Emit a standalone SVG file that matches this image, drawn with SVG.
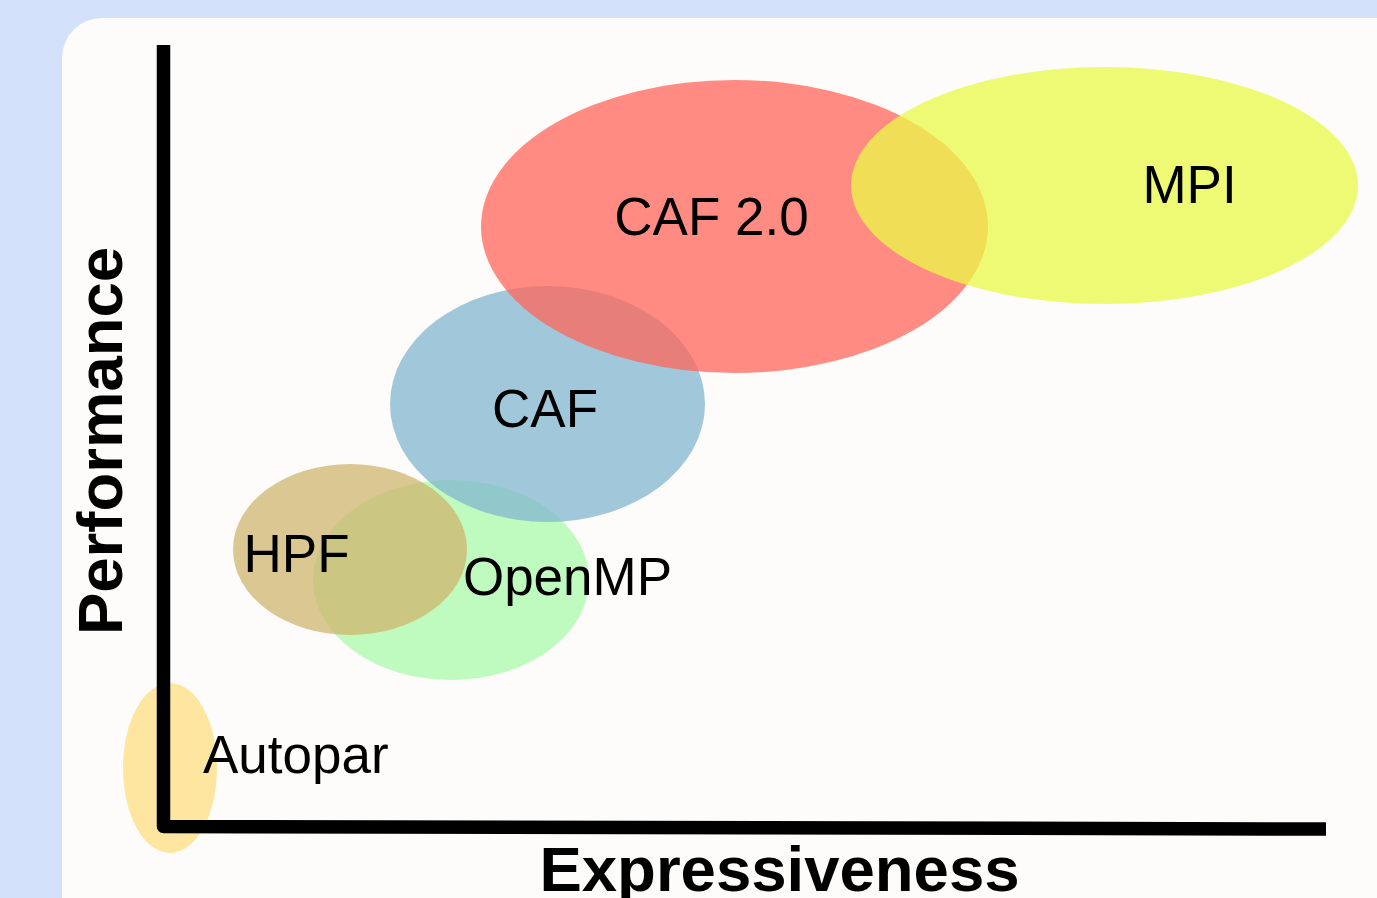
<svg xmlns="http://www.w3.org/2000/svg" width="1377" height="898" viewBox="0 0 1377 898">
<style>
.blob{fill-opacity:0.75;stroke:none}
.lbl{font-family:"Liberation Sans",Arial,sans-serif;font-size:53px;fill:#000}
.axlbl{font-family:"Liberation Sans",Arial,sans-serif;font-size:63.5px;font-weight:bold;fill:#000;text-anchor:middle}
</style>
<rect x="0" y="0" width="1377" height="898" fill="#D3E2FA"/>
<rect x="62" y="18" width="1400" height="1000" rx="40" ry="40" fill="#FDFCFB"/>
<g id="autopar">
<ellipse class="blob" cx="170" cy="768" rx="47" ry="85" fill="#FFDF82"/>
</g>
<g id="openmp">
<ellipse class="blob" cx="451" cy="580" rx="138" ry="100" fill="#A9FBAA"/>
</g>
<g id="hpf">
<ellipse class="blob" cx="350" cy="549.5" rx="117" ry="85.5" fill="#CFB56D"/>
</g>
<g id="caf">
<ellipse class="blob" cx="547.5" cy="404" rx="157.5" ry="118" fill="#81B7CF"/>
</g>
<g id="caf2">
<ellipse class="blob" cx="734.5" cy="226.5" rx="253.5" ry="146.5" fill="#FF655A"/>
</g>
<g id="mpi">
<ellipse class="blob" cx="1104.5" cy="185.5" rx="253.5" ry="118.5" fill="#E9F947"/>
</g>
<g id="axes">
<path d="M163.5,45 V826.5 L1326,829" fill="none" stroke="#000" stroke-width="13.5" stroke-linejoin="round" stroke-linecap="butt"/>
</g>
<g id="labels">
<text class="lbl" x="711.5" y="235" text-anchor="middle">CAF 2.0</text>
<text class="lbl" x="1189.5" y="203" text-anchor="middle">MPI</text>
<text class="lbl" x="545" y="427" text-anchor="middle">CAF</text>
<text class="lbl" x="296.5" y="572" text-anchor="middle">HPF</text>
<text class="lbl" x="567.5" y="595" text-anchor="middle">OpenMP</text>
<text class="lbl" x="203" y="773">Autopar</text>
<text class="axlbl" x="779.5" y="891">Expressiveness</text>
<text class="axlbl" transform="translate(122,441) rotate(-90)">Performance</text>
</g>
</svg>
